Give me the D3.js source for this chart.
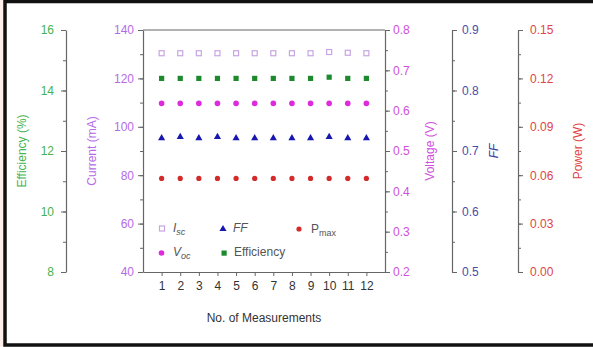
<!DOCTYPE html>
<html lang="en">
<head>
  <meta charset="UTF-8">
  <title>Repeated measurements</title>
  <script src="https://d3js.org/d3.v7.min.js"></script>
  <style>
    body {
      margin: 0;
      background: #fdf0ea;
      font-family: "Liberation Sans", Arial, sans-serif;
    }
    svg text { font-family: "Liberation Sans", Arial, sans-serif; }
  </style>
</head>
<body>
  <div id="chart"></div>
  <script>
    // values
    const measurements = [1, 2, 3, 4, 5, 6, 7, 8, 9, 10, 11, 12];
    const iscValues  = [130.4, 130.4, 130.4, 130.4, 130.4, 130.4, 130.4, 130.4, 130.4, 130.9, 130.6, 130.4];   // mA
    const effValues  = [14.40, 14.40, 14.40, 14.40, 14.40, 14.40, 14.40, 14.40, 14.40, 14.44, 14.40, 14.40];   // %
    const vocValues  = [0.618, 0.618, 0.618, 0.618, 0.618, 0.618, 0.618, 0.618, 0.618, 0.618, 0.618, 0.618];   // V
    const ffValues   = [0.722, 0.724, 0.722, 0.724, 0.722, 0.722, 0.722, 0.722, 0.722, 0.724, 0.722, 0.722];
    const pmaxValues = [0.058, 0.058, 0.058, 0.058, 0.058, 0.058, 0.058, 0.058, 0.058, 0.058, 0.058, 0.058];   // W

    const effTicks = [8, 10, 12, 14, 16];
    const curTicks = [40, 60, 80, 100, 120, 140];
    const voltTicks = [0.2, 0.3, 0.4, 0.5, 0.6, 0.7, 0.8];
    const ffTicks = [0.5, 0.6, 0.7, 0.8, 0.9];
    const powTicks = [0, 0.03, 0.06, 0.09, 0.12, 0.15];

    const W = 593, H = 347;
    const plotTop = 30, plotBottom = 272;
    const plotL = 143, plotR = 385;

    const svg = d3.select("#chart").append("svg")
      .attr("width", W).attr("height", H)
      .style("display", "block");

    // frame
    svg.append("rect").attr("x", 3).attr("y", 0).attr("width", W - 3).attr("height", H)
      .attr("fill", "white");
    svg.append("path")
      .attr("d", `M${W},1.5 H5 V345 H${W}`)
      .attr("fill", "none").attr("stroke", "#111").attr("stroke-width", 3.5);

    const x = d3.scaleLinear().domain([0, 13]).range([plotL, plotR]);
    const yEff = d3.scaleLinear().domain([8, 16]).range([plotBottom, plotTop]);
    const yCur = d3.scaleLinear().domain([40, 140]).range([plotBottom, plotTop]);
    const yVolt = d3.scaleLinear().domain([0.2, 0.8]).range([plotBottom, plotTop]);
    const yFF = d3.scaleLinear().domain([0.5, 0.9]).range([plotBottom, plotTop]);
    const yPow = d3.scaleLinear().domain([0, 0.15]).range([plotBottom, plotTop]);

    const axisCol = "#666";

    function drawAxis(gen, scale, minorStep, pos, textCol, opt) {
      const g = svg.append("g").attr("transform", `translate(${pos},0)`);
      // minor ticks
      const [d0, d1] = scale.domain();
      const minors = d3.range(d0, d1 + minorStep / 2, minorStep);
      g.append("g").call(gen(scale).tickValues(minors).tickFormat("").tickSize(3).tickSizeOuter(0))
        .call(s => s.select(".domain").remove())
        .call(s => s.selectAll("line").attr("stroke", axisCol));
      const a = g.append("g").call(gen(scale).tickValues(opt.ticks).tickFormat(opt.f)
        .tickSize(5).tickSizeOuter(0).tickPadding(opt.pad));
      a.select(".domain").attr("stroke", axisCol).attr("stroke-width", 1.2);
      a.selectAll("line").attr("stroke", axisCol);
      a.selectAll("text").attr("fill", textCol).style("font-size", "12px");
      return g;
    }

    drawAxis(d3.axisLeft, yEff, 1, 66, "#45b34f", { ticks: effTicks, f: d3.format("d"), pad: 7 });
    drawAxis(d3.axisLeft, yCur, 10, plotL, "#b56ce6", { ticks: curTicks, f: d3.format("d"), pad: 4 });
    drawAxis(d3.axisRight, yVolt, 0.05, plotR, "#cf4fde", { ticks: voltTicks, f: d3.format(".1f"), pad: 3 });
    drawAxis(d3.axisRight, yFF, 0.05, 452, "#4b4bab", { ticks: ffTicks, f: d3.format(".1f"), pad: 5 });
    drawAxis(d3.axisRight, yPow, 0.015, 518, "#e04545", { ticks: powTicks, f: d3.format(".2f"), pad: 7 });

    // top border of the plot box
    svg.append("line").attr("x1", plotL).attr("x2", plotR).attr("y1", plotTop).attr("y2", plotTop)
      .attr("stroke", axisCol).attr("stroke-width", 1.2);

    // bottom axis
    const xa = svg.append("g").attr("transform", `translate(0,${plotBottom})`)
      .call(d3.axisBottom(x).tickValues(measurements).tickSize(4).tickSizeOuter(0).tickPadding(5));
    xa.select(".domain").attr("stroke", axisCol).attr("stroke-width", 1.2);
    xa.selectAll("line").attr("stroke", axisCol);
    xa.selectAll("text").attr("fill", "#333").style("font-size", "12px");

    // axis titles
    function vTitle(cx, cy, txt, col, italic) {
      svg.append("text").attr("transform", `translate(${cx},${cy}) rotate(-90)`)
        .attr("text-anchor", "middle").attr("dy", "0.35em")
        .attr("fill", col).style("font-size", "12px")
        .style("font-style", italic ? "italic" : "normal").text(txt);
    }
    vTitle(22, 151, "Efficiency (%)", "#45b34f");
    vTitle(92, 151, "Current (mA)", "#b56ce6");
    vTitle(430, 151, "Voltage (V)", "#cf4fde");
    vTitle(494, 151, "FF", "#3a3aa8", true);
    vTitle(578, 151, "Power (W)", "#e04545");

    svg.append("text").attr("x", (plotL + plotR) / 2).attr("y", 322)
      .attr("text-anchor", "middle").attr("fill", "#333").style("font-size", "12px")
      .text("No. of Measurements");

    // markers
    const sym = d3.symbol();
    const plot = svg.append("g");

    plot.selectAll(".isc").data(measurements).join("rect")
      .attr("x", (d) => x(d) - 2.5).attr("y", (d, i) => yCur(iscValues[i]) - 2.5)
      .attr("width", 5).attr("height", 5)
      .attr("fill", "white").attr("stroke", "#c7a5e2").attr("stroke-width", 1.2);

    plot.selectAll(".eff").data(measurements).join("rect")
      .attr("x", (d) => x(d) - 2.6).attr("y", (d, i) => yEff(effValues[i]) - 2.6)
      .attr("width", 5.2).attr("height", 5.2).attr("fill", "#1d8a2d");

    plot.selectAll(".voc").data(measurements).join("circle")
      .attr("cx", (d) => x(d)).attr("cy", (d, i) => yVolt(vocValues[i]))
      .attr("r", 2.8).attr("fill", "#dd2add");

    plot.selectAll(".ff").data(measurements).join("path")
      .attr("transform", (d, i) => `translate(${x(d)},${yFF(ffValues[i]) + 0.5})`)
      .attr("d", sym.type(d3.symbolTriangle).size(22)()).attr("fill", "#1717b0");

    plot.selectAll(".pmax").data(measurements).join("circle")
      .attr("cx", (d) => x(d)).attr("cy", (d, i) => yPow(pmaxValues[i]))
      .attr("r", 2.6).attr("fill", "#d32a2a");

    // legend
    const lg = svg.append("g").style("font-size", "12px");
    function legendLabel(lx, ly, main, sub, italic) {
      const t = lg.append("text").attr("x", lx).attr("y", ly).attr("dy", "0.35em").attr("fill", "#555");
      t.append("tspan").text(main).style("font-style", italic ? "italic" : "normal");
      if (sub) t.append("tspan").text(sub).attr("dy", "3").style("font-size", "9px")
        .style("font-style", italic ? "italic" : "normal");
    }
    lg.append("rect").attr("x", 159.5).attr("y", 226).attr("width", 5).attr("height", 5)
      .attr("fill", "white").attr("stroke", "#c7a5e2").attr("stroke-width", 1.2);
    legendLabel(173, 228, "I", "sc", true);
    lg.append("path").attr("transform", "translate(223,229)")
      .attr("d", sym.type(d3.symbolTriangle).size(22)()).attr("fill", "#1717b0");
    legendLabel(233, 228, "FF", null, true);
    lg.append("circle").attr("cx", 299).attr("cy", 229).attr("r", 2.6).attr("fill", "#d32a2a");
    legendLabel(311, 229, "P", "max", false);
    lg.append("circle").attr("cx", 161.5).attr("cy", 253).attr("r", 2.8).attr("fill", "#dd2add");
    legendLabel(173, 252, "V", "oc", true);
    lg.append("rect").attr("x", 221.5).attr("y", 250.5).attr("width", 5.2).attr("height", 5.2).attr("fill", "#1d8a2d");
    legendLabel(234, 252, "Efficiency", null, false);
  </script>
</body>
</html>
